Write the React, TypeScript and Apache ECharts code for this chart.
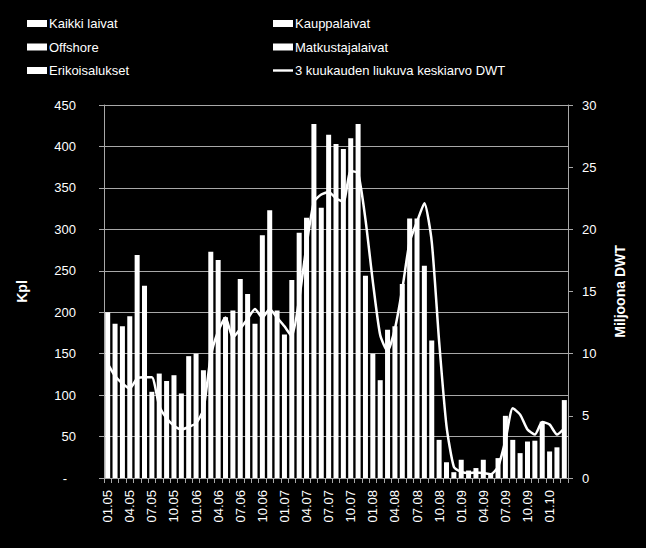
import React, { useEffect, useRef } from "react";
import * as echarts from "echarts";

const months = [
  "01.05","02.05","03.05","04.05","05.05","06.05","07.05","08.05","09.05","10.05","11.05","12.05",
  "01.06","02.06","03.06","04.06","05.06","06.06","07.06","08.06","09.06","10.06","11.06","12.06",
  "01.07","02.07","03.07","04.07","05.07","06.07","07.07","08.07","09.07","10.07","11.07","12.07",
  "01.08","02.08","03.08","04.08","05.08","06.08","07.08","08.08","09.08","10.08","11.08","12.08",
  "01.09","02.09","03.09","04.09","05.09","06.09","07.09","08.09","09.09","10.09","11.09","12.09",
  "01.10","02.10","03.10",
];

const kaikkiLaivat = [
  200,186,183,195,269,232,104,126,117,124,102,147,150,130,273,263,
  194,202,240,222,186,293,323,202,173,239,296,314,427,326,414,403,
  397,410,427,244,150,118,179,183,234,313,313,256,166,46,19,
  7,22,9,12,22,6,24,75,46,30,44,45,68,32,37,94,
];

const liukuvaKeskiarvoDWT = [
  9.2,8.2,7.6,7.2,8.0,8.1,8.1,5.8,4.8,4.2,3.9,4.1,4.4,5.5,9.8,11.8,
  12.9,11.3,12.0,12.8,13.6,12.9,13.6,12.9,12.2,11.4,14.4,18.7,22.2,22.8,23.0,22.5,
  22.2,24.7,24.5,20.8,15.8,11.5,10.2,12.0,15.2,19.0,20.6,22.1,19.0,11.0,4.2,
  0.9,0.5,0.4,0.45,0.4,0.3,0.9,3.0,5.6,5.1,3.9,3.5,4.5,4.3,3.5,4.0,
];

const leftLegend = ["Kaikki laivat", "Offshore", "Erikoisalukset"];
const rightLegend = ["Kauppalaivat", "Matkustajalaivat", "3 kuukauden liukuva keskiarvo DWT"];
const emptyBarSeries = ["Offshore", "Erikoisalukset", "Kauppalaivat", "Matkustajalaivat"];

const FONT = "'Liberation Sans', Arial, sans-serif";

export default function App() {
  const ref = useRef<HTMLDivElement>(null);
  useEffect(() => {
    if (!ref.current) return;
    const chart = echarts.init(ref.current, undefined, { renderer: "svg" });
    const legendBase = {
      orient: "vertical",
      top: 12,
      itemWidth: 20,
      itemHeight: 7,
      itemGap: 10.5,
      icon: "rect",
      textStyle: { color: "#ffffff", fontSize: 13, fontFamily: FONT, padding: [0, 0, 0, -3] },
      selectedMode: false,
    };
    chart.setOption({
      animation: false,
      backgroundColor: "#000000",
      textStyle: { fontFamily: FONT },
      legend: [
        { ...legendBase, left: 22, data: leftLegend },
        {
          ...legendBase,
          left: 268,
          data: [
            { name: rightLegend[0] },
            { name: rightLegend[1] },
            { name: rightLegend[2], icon: "path://M0,0 L20,0 L20,2.4 L0,2.4 Z", itemStyle: { color: "#fff" } },
          ],
        },
      ],
      grid: { left: 104, right: 78, top: 105, bottom: 70 },
      xAxis: {
        type: "category",
        data: months,
        boundaryGap: true,
        axisLine: { lineStyle: { color: "#a8a8a8", width: 1 } },
        axisTick: { show: true, interval: 0, length: 5, lineStyle: { color: "#a8a8a8" } },
        axisLabel: {
          interval: 2,
          rotate: 90,
          color: "#ffffff",
          fontSize: 13,
          fontFamily: FONT,
          margin: 12,
        },
      },
      yAxis: [
        {
          type: "value",
          min: 0,
          max: 450,
          interval: 50,
          name: "Kpl",
          nameLocation: "middle",
          nameGap: 75,
          nameRotate: 90,
          nameTextStyle: { color: "#ffffff", fontSize: 14, fontWeight: "bold", fontFamily: FONT },
          axisLine: { show: true, lineStyle: { color: "#a8a8a8" } },
          axisTick: { show: true, length: 5, lineStyle: { color: "#a8a8a8" } },
          splitLine: { show: true, lineStyle: { color: "#a8a8a8", width: 1 } },
          axisLabel: {
            color: "#ffffff",
            fontSize: 13,
            fontFamily: FONT,
            margin: 28,
            formatter: (v: number) => (v === 0 ? "{d|-}" : String(v)),
            rich: { d: { color: "#ffffff", fontSize: 13, padding: [0, 9, 0, 0] } },
          },
        },
        {
          type: "value",
          min: 0,
          max: 30,
          interval: 5,
          name: "Miljoona DWT",
          nameLocation: "middle",
          nameGap: 45,
          nameRotate: 90,
          nameTextStyle: { color: "#ffffff", fontSize: 14, fontWeight: "bold", fontFamily: FONT },
          axisLine: { show: true, lineStyle: { color: "#a8a8a8" } },
          axisTick: { show: true, length: 5, lineStyle: { color: "#a8a8a8" } },
          splitLine: { show: false },
          axisLabel: { color: "#ffffff", fontSize: 13, fontFamily: FONT, margin: 14 },
        },
      ],
      series: [
        {
          name: "Kaikki laivat",
          type: "bar",
          stack: "all",
          data: kaikkiLaivat,
          barCategoryGap: "32%",
          itemStyle: { color: "#ffffff" },
        },
        ...emptyBarSeries.map((n) => ({
          name: n,
          type: "bar",
          stack: "all",
          data: [],
          itemStyle: { color: "#ffffff" },
        })),
        {
          name: rightLegend[2],
          type: "line",
          yAxisIndex: 1,
          data: liukuvaKeskiarvoDWT,
          symbol: "none",
          smooth: 0.2,
          lineStyle: { color: "#ffffff", width: 2.5 },
          itemStyle: { color: "#ffffff" },
          z: 5,
        },
      ],
    });
    return () => chart.dispose();
  }, []);
  return (
    <div
      ref={ref}
      style={{ position: "fixed", left: 0, top: 0, width: 646, height: 548 }}
    />
  );
}
